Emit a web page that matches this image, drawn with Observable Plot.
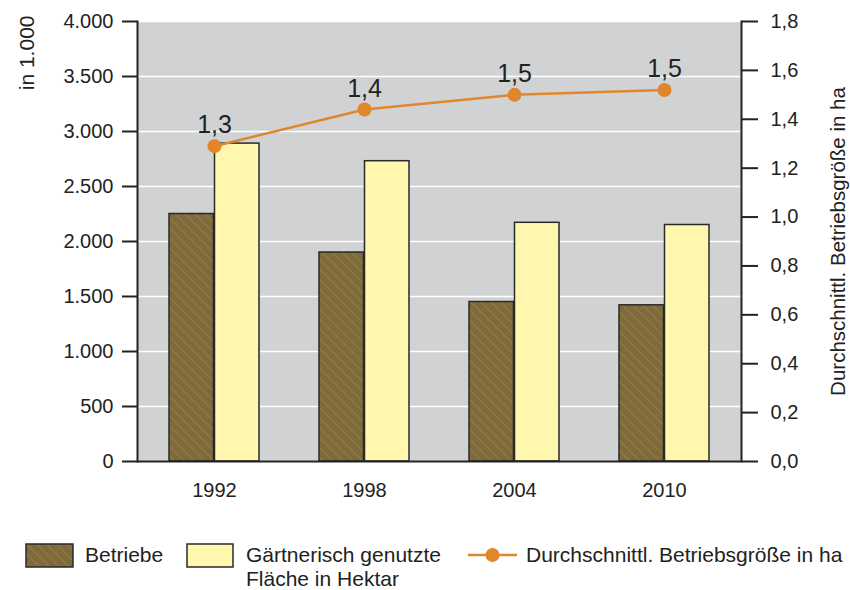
<!DOCTYPE html>
<html><head><meta charset="utf-8">
<script src="https://cdn.jsdelivr.net/npm/d3@7"></script>
<script src="https://cdn.jsdelivr.net/npm/@observablehq/plot@0.6"></script>
<style>
body{margin:0;background:#fff;font-family:"Liberation Sans",Arial,sans-serif;color:#222;}
#wrap{position:relative;width:850px;height:590px;overflow:hidden;}
#chart{position:absolute;left:0;top:0;}
.lg{position:absolute;font-size:21px;line-height:24px;white-space:nowrap;}
</style></head><body>
<div id="wrap"><div id="chart"></div>
<svg class="lg" style="left:24px;top:542px" width="52" height="28"><defs><pattern id="hatchL" patternUnits="userSpaceOnUse" width="7" height="7" patternTransform="rotate(-45)"><rect width="7" height="7" fill="#7e6a3b"/><line x1="0" y1="0" x2="0" y2="7" stroke="#a08c4c" stroke-width="1.2"/></pattern></defs><rect x="2" y="2" width="47" height="23" fill="url(#hatchL)" stroke="#2a2a2a" stroke-width="1.5"/></svg>
<div class="lg" style="left:85px;top:543px">Betriebe</div>
<svg class="lg" style="left:185px;top:542px" width="52" height="28"><rect x="2" y="2" width="46" height="23" fill="#fff7ae" stroke="#2a2a2a" stroke-width="1.5"/></svg>
<div class="lg" style="left:246px;top:543px">Gärtnerisch genutzte<br>Fläche in Hektar</div>
<svg class="lg" style="left:466px;top:542px" width="54" height="28"><line x1="2" y1="13" x2="51" y2="13" stroke="#e0872b" stroke-width="2.5"/><circle cx="26.5" cy="13" r="7" fill="#e0872b"/></svg>
<div class="lg" style="left:526px;top:543px">Durchschnittl. Betriebsgröße in ha</div>
</div>
<script>
const years = ["1992", "1998", "2004", "2010"];
const betriebe = [2250, 1900, 1450, 1420];
const flaeche = [2890, 2730, 2170, 2150];
const groesse = [1.29, 1.44, 1.50, 1.52];
const groesseLabels = ["1,3", "1,4", "1,5", "1,5"];
const leftTicks = [0, 500, 1000, 1500, 2000, 2500, 3000, 3500, 4000];
const rightTicks = [0, 0.2, 0.4, 0.6, 0.8, 1.0, 1.2, 1.4, 1.6, 1.8];
const leftMax = 4000, rightMax = 1.8;
const k = leftMax / rightMax;

const rows = years.map((year, i) => ({year, betriebe: betriebe[i], flaeche: flaeche[i], groesse: groesse[i], label: groesseLabels[i]}));
const de = d3.formatLocale({decimal: ",", thousands: ".", grouping: [3], currency: ["", "€"]});
const fmtLeft = de.format(",");
const fmtRight = d => d.toFixed(1).replace(".", ",");

const ink = "#222";
const orange = "#e0872b";

const chart = Plot.plot({
  width: 850, height: 520,
  marginLeft: 137, marginRight: 109, marginTop: 21, marginBottom: 59,
  style: {fontFamily: "'Liberation Sans', Arial, sans-serif", fontSize: "20px", color: ink, background: "transparent", overflow: "visible"},
  x: {type: "band", domain: years, paddingInner: 0.397, paddingOuter: 0.2, label: null},
  y: {domain: [0, leftMax], label: null},
  marks: [
    Plot.frame({fill: "#d1d2d4", stroke: null}),
    Plot.gridY(leftTicks, {stroke: "#fff", strokeOpacity: 1, strokeWidth: 1.6}),
    Plot.barY(rows, {x: "year", y: "betriebe", fill: "url(#hatch)", stroke: "#2a2a2a", strokeWidth: 1.5, insetRight: 45.5}),
    Plot.barY(rows, {x: "year", y: "flaeche", fill: "#fff7ae", stroke: "#2a2a2a", strokeWidth: 1.5, insetLeft: 45.5}),
    Plot.line(rows, {x: "year", y: d => d.groesse * k, stroke: orange, strokeWidth: 2.5}),
    Plot.dot(rows, {x: "year", y: d => d.groesse * k, r: 7, fill: orange, stroke: null}),
    Plot.text(rows, {x: "year", y: d => d.groesse * k, text: "label", dy: -21, fontSize: 25, fill: ink}),
    Plot.frame({anchor: "left", stroke: ink, strokeWidth: 2}),
    Plot.frame({anchor: "right", stroke: ink, strokeWidth: 2}),
    Plot.ruleY([0], {stroke: ink, strokeWidth: 2}),
    Plot.axisY(leftTicks, {anchor: "left", tickSize: 15, tickPadding: 9, tickFormat: fmtLeft, fontSize: 20, strokeWidth: 2, stroke: ink, label: null}),
    Plot.axisY(rightTicks, {anchor: "right", y: d => d * k, tickSize: 16, tickPadding: 13, tickFormat: fmtRight, fontSize: 20, strokeWidth: 2, stroke: ink, label: null}),
    Plot.axisX({tickSize: 0, tickPadding: 21, fontSize: 20, label: null}),
    Plot.text(["in 1.000"], {frameAnchor: "top-left", text: d => d, rotate: -90, textAnchor: "end", dx: -118, dy: -6, fontSize: 21, fill: ink}),
    Plot.text(["Durchschnittl. Betriebsgröße in ha"], {frameAnchor: "right", text: d => d, rotate: -90, textAnchor: "middle", dx: 97, dy: 0, fontSize: 20.5, fill: ink})
  ]
});

const svg = d3.select(chart);
const defs = svg.insert("defs", ":first-child");
const pat = defs.append("pattern").attr("id", "hatch").attr("patternUnits", "userSpaceOnUse")
  .attr("width", 7).attr("height", 7).attr("patternTransform", "rotate(-45)");
pat.append("rect").attr("width", 7).attr("height", 7).attr("fill", "#7e6a3b");
pat.append("line").attr("x1", 0).attr("y1", 0).attr("x2", 0).attr("y2", 7).attr("stroke", "#a08c4c").attr("stroke-width", 1.2);

document.getElementById("chart").appendChild(chart);
</script>
</body></html>
